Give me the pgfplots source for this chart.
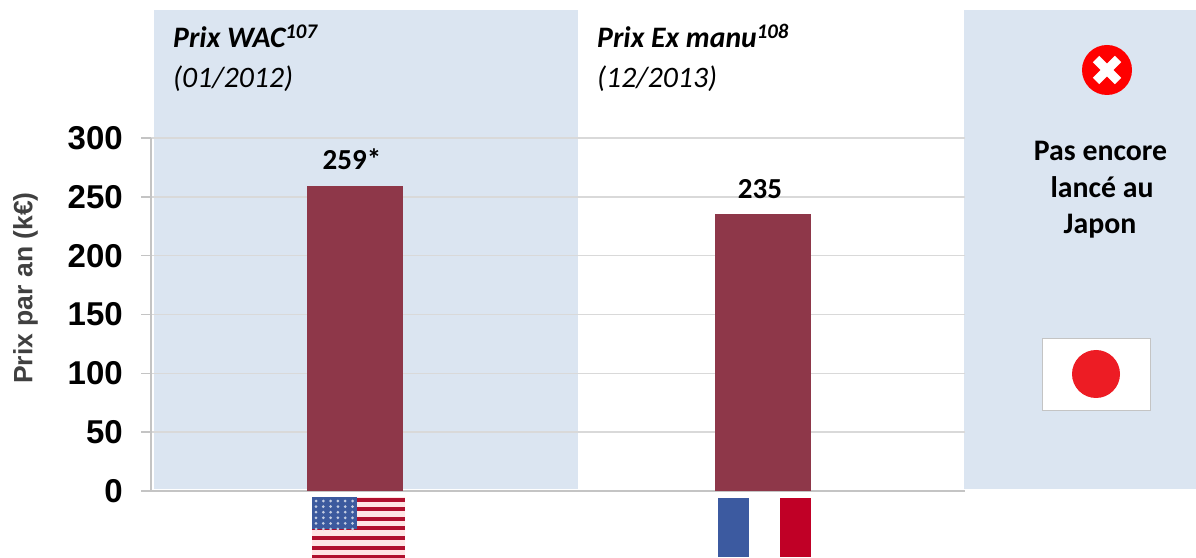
\documentclass[border=0pt]{standalone}
\usepackage{fontspec}
\setmainfont{Liberation Sans}
\newfontfamily\calib{Carlito}
\usepackage{pgfplots}
\pgfplotsset{compat=1.18}

\definecolor{panel}{HTML}{DBE5F1}
\definecolor{barred}{HTML}{8E3749}
\definecolor{axgray}{HTML}{C4C4C4}
\definecolor{gridgray}{HTML}{D9D9D9}
\definecolor{labgray}{HTML}{404040}
\definecolor{usblue}{HTML}{3C5A9E}
\definecolor{usred}{HTML}{B0102E}
\definecolor{frblue}{HTML}{3C5AA0}
\definecolor{frred}{HTML}{C00026}
\definecolor{jpred}{HTML}{ED1C24}

\begin{document}
\begin{tikzpicture}[x=1pt,y=1pt]
\useasboundingbox (0,0) rectangle (1196,557);
% background panels, y counted from the bottom (557 - pixel row)
\fill[panel] (154,68) rectangle (578,547);
\fill[panel] (964,68) rectangle (1196,547);

\begin{axis}[
    at={(151pt,66pt)}, anchor=south west,
    scale only axis, width=814pt, height=353pt,
    xmin=-0.5, xmax=1.495, ymin=0, ymax=300,
    axis x line=bottom, axis y line=left,
    axis line style={-, axgray, line width=1.5pt},
    xtick=\empty,
    ytick={0,50,100,150,200,250,300},
    tick align=outside, major tick length=10pt,
    y tick style={axgray, line width=1.5pt},
    ymajorgrids, grid style={gridgray, line width=1.6pt},
    /pgf/number format/assume math mode=true,
    yticklabel style={font=\fontsize{33}{38}\selectfont\bfseries, inner sep=0pt, xshift=-18pt},
    every axis y label/.style={at={(axis description cs:-0.154,0.575)}, rotate=90, anchor=center},
    ylabel={\fontsize{26.5}{30}\selectfont\bfseries\color{labgray}Prix par an (k€)},
    ybar, bar width=96pt,
    point meta=explicit symbolic,
    nodes near coords,
    nodes near coords style={font=\calib\fontsize{29}{34}\selectfont\bfseries, black, anchor=south, inner sep=0pt},
]
\addplot[bar shift=0pt, fill=barred, draw=none, nodes near coords style={xshift=-3pt, yshift=16pt}]
    coordinates {(0,259)[259*]};
\addplot[bar shift=0pt, fill=barred, draw=none, nodes near coords style={xshift=-3pt, yshift=16pt}]
    coordinates {(1,235)[235]};
\end{axis}

% panel titles
\node[font=\calib\fontsize{29.7}{34}\selectfont\bfseries\itshape, anchor=base west, inner sep=0pt] at (173,509) {Prix WAC\textsuperscript{107}};
\node[font=\calib\fontsize{29.7}{34}\selectfont\itshape, anchor=base west, inner sep=0pt] at (173,469) {(01/2012)};
\node[font=\calib\fontsize{29.7}{34}\selectfont\bfseries\itshape, anchor=base west, inner sep=0pt] at (597,509) {Prix Ex manu\textsuperscript{108}};
\node[font=\calib\fontsize{29.7}{34}\selectfont\itshape, anchor=base west, inner sep=0pt] at (597,469) {(12/2013)};

% right panel
\fill[red] (1107,487) circle (25);
\draw[white, line width=9pt] (1096,476) -- (1118,498);
\draw[white, line width=9pt] (1096,498) -- (1118,476);
\node[font=\calib\fontsize{29.8}{34}\selectfont\bfseries, anchor=base, inner sep=0pt] at (1100.5,396.5) {Pas encore};
\node[font=\calib\fontsize{29.8}{34}\selectfont\bfseries, anchor=base, inner sep=0pt] at (1102,359.5) {lancé au};
\node[font=\calib\fontsize{29.8}{34}\selectfont\bfseries, anchor=base, inner sep=0pt] at (1100,323.5) {Japon};
\filldraw[fill=white, draw=axgray, line width=1pt] (1042,146) rectangle (1150,218.5);
\fill[jpred] (1096,183) circle (24);

% US flag
\fill[white!90!red] (312,0) rectangle (405,60);
\foreach \i in {0,...,6} {
    \fill[usred] (312,{55.5-\i*9.6}) rectangle (405,{59.5-\i*9.6});
}
\fill[usblue] (312,28) rectangle (357,60);
\foreach \r in {0,...,5} {
    \foreach \c in {0,...,5} {
        \fill[white!70!usblue] ({316+\c*7.3},{56-\r*5.6}) circle (1.5);
    }
}
% French flag
\fill[frblue] (718,0) rectangle (749,59);
\fill[frred] (780,0) rectangle (811,59);
\end{tikzpicture}
\end{document}
